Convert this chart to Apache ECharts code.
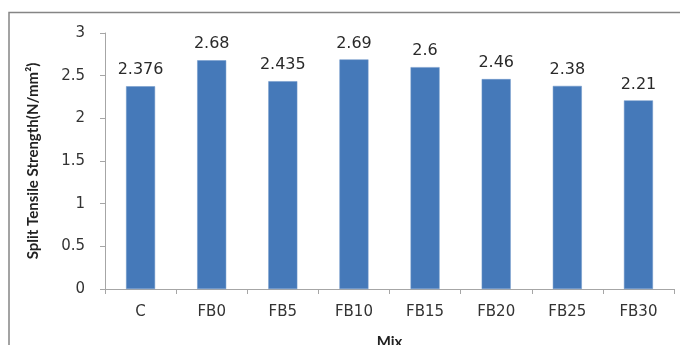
<!DOCTYPE html>
<html>
<head>
<meta charset="utf-8">
<script src="https://cdn.jsdelivr.net/npm/echarts@6/dist/echarts.min.js"></script>
<style>html,body{margin:0;padding:0;background:#fff;overflow:hidden;}#c{width:680px;height:345px;}</style>
</head>
<body>
<div id="c"></div>
<script>
const categories = ['C', 'FB0', 'FB5', 'FB10', 'FB15', 'FB20', 'FB25', 'FB30'];
const values = [2.376, 2.68, 2.435, 2.69, 2.6, 2.46, 2.38, 2.21];
const yTicks = { min: 0, max: 3, interval: 0.5 };
const yTitle = 'Split Tensile Strength(N/mm²)';
const xTitle = 'Mix';

const chart = echarts.init(document.getElementById('c'), null, { renderer: 'canvas' });
chart.setOption({
  animation: false,
  backgroundColor: '#ffffff',
  graphic: [{
    type: 'rect',
    shape: { x: 9, y: 12.5, width: 720, height: 400 },
    style: { fill: 'none', stroke: '#858585', lineWidth: 1.5 },
    z: 0
  }],
  grid: { left: 105, right: 6, top: 33, bottom: 56, containLabel: false, outerBoundsMode: 'none' },
  xAxis: {
    type: 'category',
    data: categories,
    name: xTitle,
    nameLocation: 'middle',
    nameGap: 46,
    nameTextStyle: { fontFamily: 'Lato', fontWeight: 'bold', fontSize: 15, color: '#222' },
    axisLine: { lineStyle: { color: '#a6a6a6', width: 1 } },
    axisTick: { show: true, alignWithLabel: false, length: 5, lineStyle: { color: '#a6a6a6' } },
    axisLabel: { margin: 16, fontFamily: 'DejaVu Sans', fontSize: 15, color: '#333' }
  },
  yAxis: {
    type: 'value',
    min: yTicks.min, max: yTicks.max, interval: yTicks.interval,
    name: yTitle,
    nameLocation: 'middle',
    nameGap: 64,
    nameRotate: 90,
    nameTextStyle: { fontFamily: 'Lato', fontWeight: 'bold', fontSize: 15, color: '#222' },
    axisLine: { show: true, lineStyle: { color: '#a6a6a6', width: 1 } },
    axisTick: { show: true, length: 5, lineStyle: { color: '#a6a6a6' } },
    splitLine: { show: false },
    axisLabel: { margin: 20, fontFamily: 'DejaVu Sans', fontSize: 15, color: '#333' }
  },
  series: [{
    type: 'bar',
    data: values,
    barWidth: 29,
    itemStyle: { color: '#4579B9', borderColor: '#6f96c8', borderWidth: 0.5 },
    label: {
      show: true, position: 'top', distance: 8,
      fontFamily: 'DejaVu Sans', fontSize: 16, color: '#2a2a2a',
      formatter: p => String(p.value)
    }
  }]
});
</script>
</body>
</html>
